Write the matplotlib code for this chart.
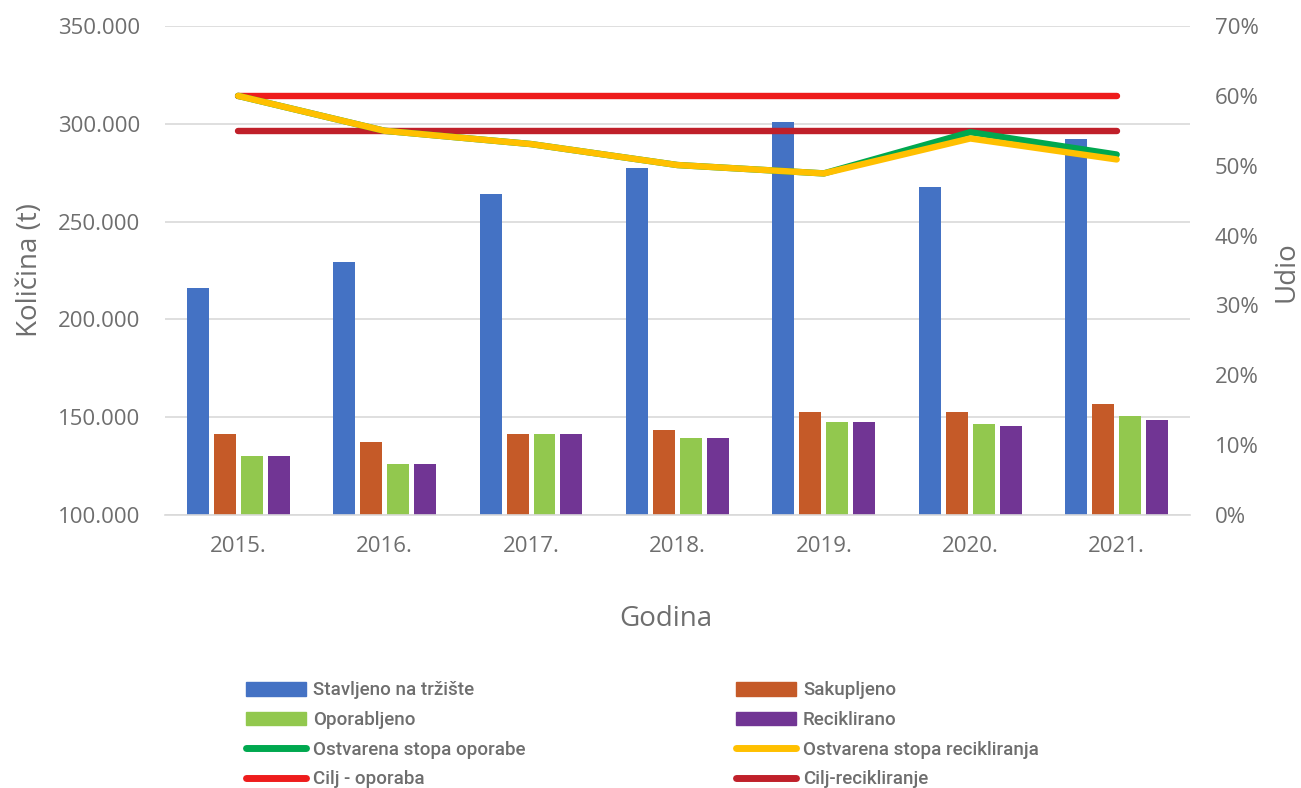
import numpy as np
import matplotlib.pyplot as plt
from matplotlib.ticker import FuncFormatter
from matplotlib.patches import Patch
from matplotlib.lines import Line2D

godine = ['2015.', '2016.', '2017.', '2018.', '2019.', '2020.', '2021.']
stavljeno = [216000, 229300, 264000, 277400, 301000, 267700, 292000]
sakupljeno = [141400, 137300, 141400, 143500, 152800, 152800, 156700]
oporabljeno = [130000, 125900, 141400, 139400, 147500, 146700, 150800]
reciklirano = [130000, 125900, 141400, 139400, 147500, 145500, 148700]
stopa_oporabe = [0.600, 0.550, 0.531, 0.501, 0.489, 0.548, 0.516]
stopa_recikliranja = [0.600, 0.550, 0.531, 0.501, 0.489, 0.539, 0.509]
cilj_oporaba = [0.60] * 7
cilj_recikliranje = [0.55] * 7

grey = '#6E6E6E'
tick_font = 'Open Sans'

fig = plt.figure(figsize=(13.01, 7.88), dpi=100)
ax = fig.add_axes([0.1268, 0.3464, 0.7878, 0.6206])
ax2 = ax.twinx()

x = np.arange(len(godine))
pitch = 0.184
w = 0.15
bar_series = [(stavljeno, '#4472C4'), (sakupljeno, '#C55A28'),
              (oporabljeno, '#92C84E'), (reciklirano, '#713594')]
for i, (vals, col) in enumerate(bar_series):
    ax.bar(x + (i - 1.5) * pitch, np.array(vals) - 100000, bottom=100000,
           width=w, color=col, zorder=2)

ax.set_ylim(100000, 350000)
ax.set_yticks(np.arange(100000, 350001, 50000))
ax.yaxis.set_major_formatter(FuncFormatter(lambda v, p: f'{int(v):,}'.replace(',', '.')))
ax.set_xlim(-0.5, 6.5)
ax.set_xticks(x)
ax.set_xticklabels(godine)
ax.grid(axis='y', color='#D9D9D9', lw=1.2)
ax.set_axisbelow(True)

line_kw = dict(lw=4.6, solid_capstyle='round', solid_joinstyle='round')
ax2.plot(x, cilj_oporaba, color='#EE1C1C', **line_kw)
ax2.plot(x, cilj_recikliranje, color='#C0202A', **line_kw)
ax2.plot(x, stopa_oporabe, color='#00A84F', **line_kw)
ax2.plot(x, stopa_recikliranja, color='#FFC000', **line_kw)
ax2.set_ylim(0, 0.7)
ax2.set_yticks(np.arange(0, 0.71, 0.1))
ax2.yaxis.set_major_formatter(FuncFormatter(lambda v, p: f'{v * 100:.0f}%'))

for a in (ax, ax2):
    for s in a.spines.values():
        s.set_visible(False)
    a.tick_params(length=0, labelsize=16, colors=grey)
    for lab in a.get_xticklabels() + a.get_yticklabels():
        lab.set_family(tick_font)
ax.tick_params(axis='y', pad=18)
ax.tick_params(axis='x', pad=15)
ax2.tick_params(axis='y', pad=18)
ax.spines['bottom'].set_visible(True)
ax.spines['bottom'].set_color('#D9D9D9')
ax.spines['bottom'].set_linewidth(1.2)

fig.text(30 / 1301, 1 - 270 / 788, 'Količina (t)', rotation=90, ha='center', va='center',
         fontsize=20, color=grey, family=tick_font)
fig.text(1287 / 1301, 1 - 272 / 788, 'Udio', rotation=90, ha='center', va='center',
         fontsize=20, color=grey, family=tick_font)
fig.text(666 / 1301, 1 - 619 / 788, 'Godina', ha='center', va='center',
         fontsize=20, color=grey, family=tick_font)

col1 = [Patch(color='#4472C4', label='Stavljeno na tržište'),
        Patch(color='#92C84E', label='Oporabljeno'),
        Line2D([], [], color='#00A84F', lw=5, solid_capstyle='round', label='Ostvarena stopa oporabe'),
        Line2D([], [], color='#EE1C1C', lw=5, solid_capstyle='round', label='Cilj - oporaba')]
col2 = [Patch(color='#C55A28', label='Sakupljeno'),
        Patch(color='#713594', label='Reciklirano'),
        Line2D([], [], color='#FFC000', lw=5, solid_capstyle='round', label='Ostvarena stopa recikliranja'),
        Line2D([], [], color='#C0202A', lw=5, solid_capstyle='round', label='Cilj-recikliranje')]

leg_kw = dict(loc='upper left', frameon=False, borderpad=0, handlelength=3.2,
              handleheight=0.75, handletextpad=0.35, labelspacing=0.62,
              prop={'family': ['Roboto', 'DejaVu Sans'], 'size': 13.5, 'weight': 'medium'},
              labelcolor=grey)
fig.legend(handles=col1, bbox_to_anchor=(237 / 1301, 1 - 672 / 788), **leg_kw)
fig.legend(handles=col2, bbox_to_anchor=(727 / 1301, 1 - 672 / 788), **leg_kw)

fig.savefig('out.png', dpi=100)
